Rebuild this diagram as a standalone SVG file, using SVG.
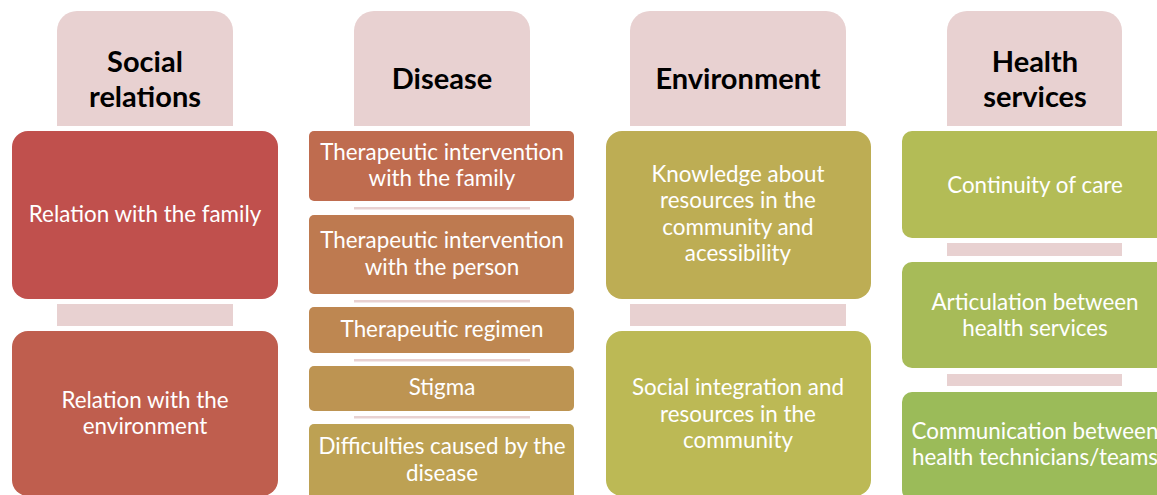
<svg xmlns="http://www.w3.org/2000/svg" width="1157" height="495" viewBox="0 0 1157 495">
<style>
.hdr{fill:#E8D1D1}
.bar{fill:#E8D1D1}
.ht{font-family:Lato,"Liberation Sans",sans-serif;font-weight:bold;font-size:29px;fill:#000;text-anchor:middle}
.bt{font-family:Lato,"Liberation Sans",sans-serif;font-size:22.4px;fill:#fff;text-anchor:middle}
</style>
<rect width="1157" height="495" fill="#fff"/>
<g id="connectors">
<rect class="bar" x="57" y="304" width="176" height="22"/>
<rect class="bar" x="354" y="207" width="176" height="2.5"/>
<rect class="bar" x="354" y="300" width="176" height="2.5"/>
<rect class="bar" x="354" y="359" width="176" height="2.5"/>
<rect class="bar" x="354" y="416" width="176" height="2.5"/>
<rect class="bar" x="630" y="304" width="216" height="22"/>
<rect class="bar" x="947" y="243" width="175" height="13"/>
<rect class="bar" x="947" y="374" width="175" height="12"/>
</g>
<g id="h-social">
<path class="hdr" d="M57 126V31a20 20 0 0 1 20-20h136a20 20 0 0 1 20 20v95z"/>
<text class="ht" x="145" y="72">Social</text>
<text class="ht" x="145" y="107">relations</text>
</g>
<g id="h-disease">
<path class="hdr" d="M354 126V31a20 20 0 0 1 20-20h136a20 20 0 0 1 20 20v95z"/>
<text class="ht" x="442" y="89">Disease</text>
</g>
<g id="h-environment">
<path class="hdr" d="M630 126V31a20 20 0 0 1 20-20h176a20 20 0 0 1 20 20v95z"/>
<text class="ht" x="738" y="89">Environment</text>
</g>
<g id="h-health">
<path class="hdr" d="M947 126V31a20 20 0 0 1 20-20h135a20 20 0 0 1 20 20v95z"/>
<text class="ht" x="1035" y="72">Health</text>
<text class="ht" x="1035" y="107">services</text>
</g>
<g id="sr1">
<rect x="12" y="131" width="266" height="168" rx="16" fill="#C0504D"/>
<text class="bt" x="145" y="222">Relation with the family</text>
</g>
<g id="sr2">
<rect x="12" y="331" width="266" height="165" rx="16" fill="#BF5E4E"/>
<text class="bt" x="145" y="408">Relation with the</text>
<text class="bt" x="145" y="434">environment</text>
</g>
<g id="d1">
<rect x="309" y="131" width="265" height="70" rx="5" fill="#BF6C4F"/>
<text class="bt" x="442" y="160">Therapeutic intervention</text>
<text class="bt" x="442" y="186">with the family</text>
</g>
<g id="d2">
<rect x="309" y="215" width="265" height="79" rx="5" fill="#BE7A50"/>
<text class="bt" x="442" y="248">Therapeutic intervention</text>
<text class="bt" x="442" y="275">with the person</text>
</g>
<g id="d3">
<rect x="309" y="307" width="265" height="46" rx="5" fill="#BE8751"/>
<text class="bt" x="442" y="337">Therapeutic regimen</text>
</g>
<g id="d4">
<rect x="309" y="366" width="265" height="45" rx="5" fill="#BD9452"/>
<text class="bt" x="442" y="395">Stigma</text>
</g>
<g id="d5">
<rect x="309" y="424" width="265" height="75" rx="5" fill="#BDA153"/>
<text class="bt" x="442" y="454">Difficulties caused by the</text>
<text class="bt" x="442" y="481">disease</text>
</g>
<g id="e1">
<rect x="606" y="131" width="265" height="168" rx="16" fill="#BDAD54"/>
<text class="bt" x="738" y="182">Knowledge about</text>
<text class="bt" x="738" y="208">resources in the</text>
<text class="bt" x="738" y="235">community and</text>
<text class="bt" x="738" y="261">acessibility</text>
</g>
<g id="e2">
<rect x="606" y="331" width="265" height="165" rx="16" fill="#BCB955"/>
<text class="bt" x="738" y="395">Social integration and</text>
<text class="bt" x="738" y="422">resources in the</text>
<text class="bt" x="738" y="448">community</text>
</g>
<g id="hs1">
<rect x="902" y="131" width="266" height="107" rx="10" fill="#B3BC56"/>
<text class="bt" x="1035" y="193">Continuity of care</text>
</g>
<g id="hs2">
<rect x="902" y="262" width="266" height="106" rx="10" fill="#A7BB58"/>
<text class="bt" x="1035" y="310">Articulation between</text>
<text class="bt" x="1035" y="336">health services</text>
</g>
<g id="hs3">
<rect x="902" y="392" width="266" height="108" rx="10" fill="#9BBB59"/>
<text class="bt" x="1035" y="439">Communication between</text>
<text class="bt" x="1035" y="465">health technicians/teams</text>
</g>
</svg>
